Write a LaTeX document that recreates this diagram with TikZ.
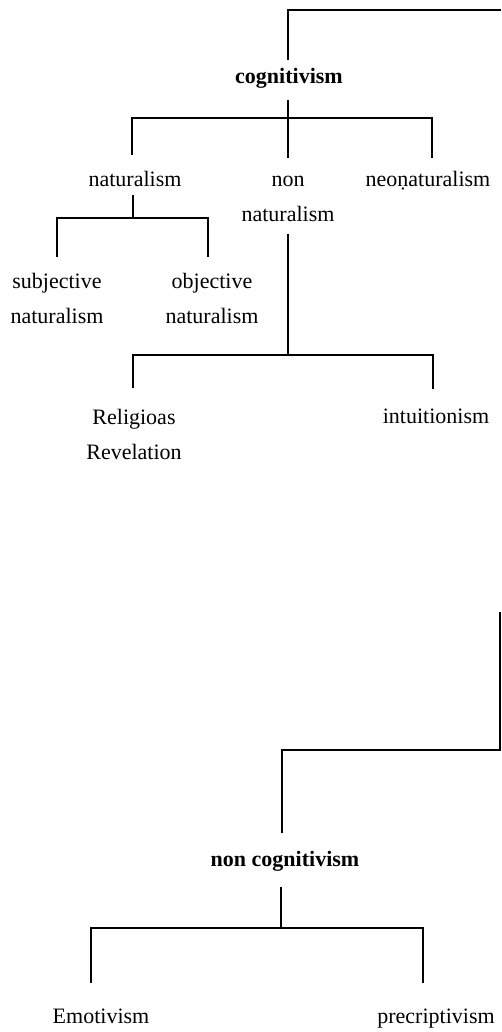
\documentclass[tikz,border=0pt]{standalone}
\usepackage{fontspec}
\setmainfont{Liberation Serif}
\begin{document}
\begin{tikzpicture}[x=1pt,y=-1pt,line join=miter,
  lab/.style={inner sep=0pt,outer sep=0pt,anchor=north,align=center,font=\fontsize{22}{35}\selectfont},
  blab/.style={lab,font=\fontsize{22}{35}\selectfont\bfseries},
  link/.style={line width=1.4pt},
  heavy/.style={line width=2.6pt}]
\useasboundingbox (0,0) rectangle (501,1032);
% nodes
\node[blab] (cog) at (289,68) {cognitivism};
\node[lab] (nat) at (135,171) {naturalism};
\node[lab] (nonnat) at (288,176) {non\\naturalism};
\node[lab] (neo) at (428,171) {neo\d{n}aturalism};
\node[lab] (subj) at (57,273) {subjective\\naturalism};
\node[lab] (obj) at (212,273) {objective\\naturalism};
\node[lab] (rel) at (134,409) {Religioas\\Revelation};
\node[lab] (intu) at (436,409) {intuitionism};
\node[blab] (noncog) at (285,851) {non cognitivism};
\node[lab] (emo) at (101,1009) {Emotivism};
\node[lab] (prec) at (436,1009) {precriptivism};
\coordinate (topR) at (501,10);
\coordinate (midR) at (500,612);
% connectors
\draw[heavy,shorten >=8pt] (topR) -| ([xshift=-1pt]cog.north);
\draw[link,shorten <=12pt,shorten >=18pt] ([xshift=-1pt]cog.south) -- (nonnat.north);
\draw[link,shorten <=16pt,shorten >=13pt] ([xshift=-3pt]nat.north) -- ++(0,-53) -| ([xshift=4pt]neo.north);
\draw[link,shorten <=9pt] ([xshift=-2pt]nat.south) -- ++(0,32);
\draw[link,shorten <=16pt,shorten >=16pt] (subj.north) -- ++(0,-55) -| ([xshift=-4pt]obj.north);
\draw[link,shorten <=12pt] (nonnat.south) -- ++(0,134);
\draw[link,shorten <=21pt,shorten >=20pt] ([xshift=-1pt]rel.north) -- ++(0,-54) -| ([xshift=-3pt]intu.north);
\draw[heavy,shorten >=18pt] (midR) -- ++(0,138) -| ([xshift=-3pt]noncog.north);
\draw[link,shorten <=16pt] ([xshift=-4pt]noncog.south) -- ++(0,57);
\draw[link,shorten <=26pt,shorten >=26pt] ([xshift=-10pt]emo.north) -- ++(0,-81) -| ([xshift=-13pt]prec.north);
\end{tikzpicture}
\end{document}
